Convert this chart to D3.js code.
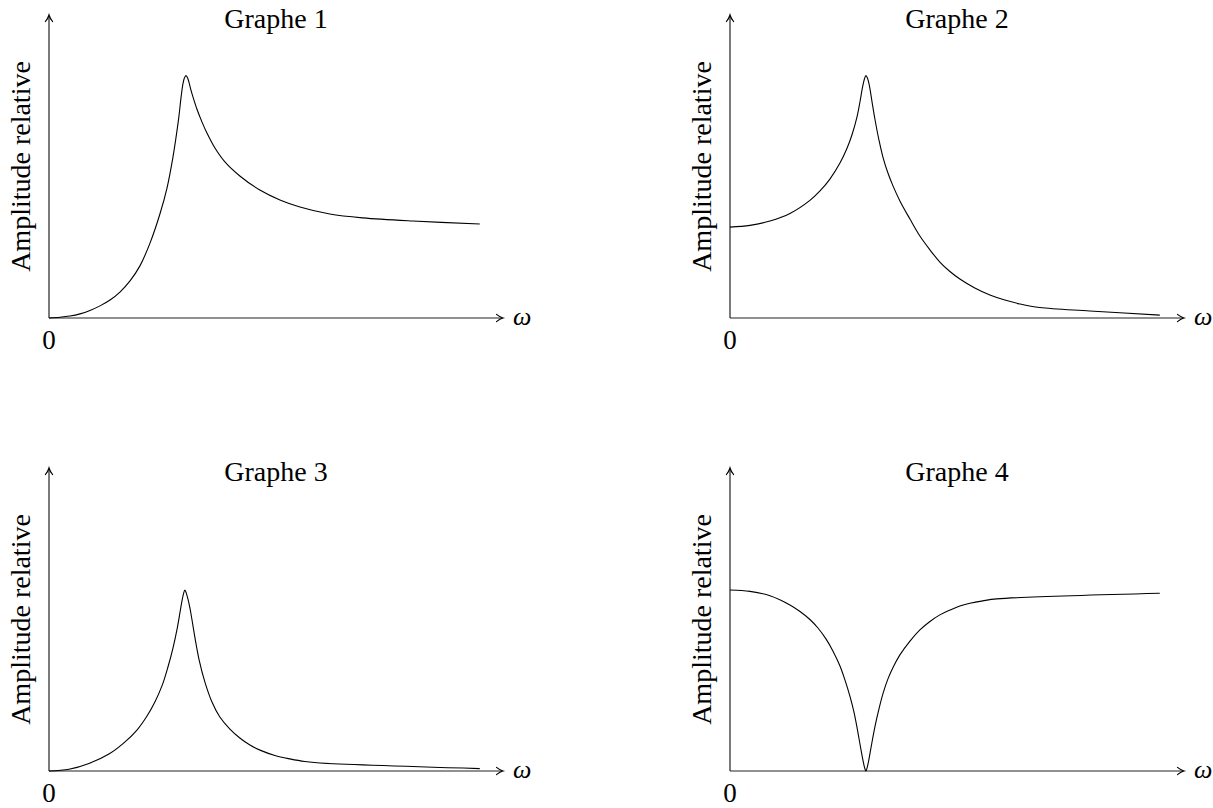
<!DOCTYPE html>
<html>
<head>
<meta charset="utf-8">
<script src="https://cdn.jsdelivr.net/npm/d3@7"></script>
<style>
body { margin: 0; background: #fff; }
text { font-family: "Liberation Serif", "Times New Roman", serif; fill: #000; }
</style>
</head>
<body>
<svg id="chart" width="1213" height="808"></svg>
<script>
// labels
var titles = ["Graphe 1", "Graphe 2", "Graphe 3", "Graphe 4"];
var yLabel = "Amplitude relative";
var xLabel = "\u03c9";
var originLabel = "0";

// values (omega, relative amplitude)
var w1 = [0, 0.081, 0.154, 0.228, 0.301, 0.375, 0.449, 0.522, 0.596, 0.669, 0.743, 0.816, 0.868, 0.912, 0.934, 0.956, 0.971, 0.985, 0.996, 1.007, 1.018, 1.029, 1.044, 1.059, 1.088, 1.125, 1.162, 1.221, 1.294, 1.404, 1.551, 1.699, 1.846, 2.066, 2.309, 2.676, 3.169];
var a1 = [0, 0.003, 0.008, 0.017, 0.031, 0.050, 0.074, 0.107, 0.153, 0.215, 0.309, 0.429, 0.536, 0.664, 0.743, 0.833, 0.908, 0.965, 0.990, 1.0, 0.992, 0.974, 0.941, 0.912, 0.862, 0.809, 0.763, 0.701, 0.644, 0.586, 0.528, 0.487, 0.458, 0.429, 0.413, 0.400, 0.388];

var w2 = [0, 0.147, 0.294, 0.441, 0.588, 0.662, 0.735, 0.809, 0.860, 0.897, 0.934, 0.956, 0.974, 0.989, 1.0, 1.011, 1.026, 1.044, 1.066, 1.096, 1.125, 1.162, 1.199, 1.250, 1.324, 1.397, 1.471, 1.544, 1.618, 1.691, 1.801, 1.912, 2.022, 2.132, 2.279, 2.647, 3.162];
var a2 = [0.375, 0.382, 0.400, 0.431, 0.485, 0.524, 0.573, 0.639, 0.699, 0.755, 0.829, 0.891, 0.949, 0.986, 1.0, 0.990, 0.957, 0.895, 0.821, 0.734, 0.664, 0.598, 0.545, 0.483, 0.408, 0.338, 0.281, 0.231, 0.192, 0.161, 0.124, 0.095, 0.074, 0.058, 0.043, 0.029, 0.012];

var w3 = [0, 0.147, 0.294, 0.441, 0.551, 0.647, 0.721, 0.779, 0.831, 0.875, 0.912, 0.941, 0.963, 0.978, 0.989, 1.0, 1.011, 1.022, 1.037, 1.051, 1.074, 1.103, 1.147, 1.199, 1.257, 1.331, 1.404, 1.478, 1.566, 1.662, 1.772, 1.882, 1.993, 3.169];
var a3 = [0, 0.007, 0.031, 0.070, 0.116, 0.169, 0.227, 0.285, 0.351, 0.429, 0.507, 0.582, 0.652, 0.701, 0.730, 0.747, 0.732, 0.710, 0.672, 0.627, 0.549, 0.462, 0.367, 0.285, 0.223, 0.173, 0.136, 0.107, 0.083, 0.064, 0.050, 0.039, 0.033, 0.010];

var w4 = [0, 0.147, 0.294, 0.441, 0.515, 0.588, 0.647, 0.706, 0.757, 0.809, 0.846, 0.882, 0.912, 0.938, 0.960, 0.978, 0.991, 1.0, 1.009, 1.021, 1.037, 1.066, 1.096, 1.127, 1.162, 1.201, 1.250, 1.324, 1.397, 1.471, 1.544, 1.618, 1.691, 1.765, 1.860, 1.963, 3.162];
var a4 = [0.747, 0.741, 0.723, 0.685, 0.658, 0.625, 0.590, 0.545, 0.495, 0.433, 0.375, 0.309, 0.243, 0.169, 0.099, 0.045, 0.012, 0, 0.014, 0.045, 0.095, 0.182, 0.256, 0.322, 0.380, 0.429, 0.479, 0.536, 0.582, 0.617, 0.644, 0.664, 0.681, 0.692, 0.702, 0.710, 0.733];

var omegas = [w1, w2, w3, w4];
var amps = [a1, a2, a3, a4];

// layout
var origins = [[49, 318], [730, 318], [49, 771], [730, 771]];
var axisW = 454, axisH = 303;

var svg = d3.select("#chart");

var x = d3.scaleLinear().domain([0, 3.34]).range([0, axisW]);
var y = d3.scaleLinear().domain([0, 1.25]).range([0, -axisH]);

var line = d3.line()
    .x(function(d) { return x(d[0]); })
    .y(function(d) { return y(d[1]); })
    .curve(d3.curveCatmullRom.alpha(0.5));

function arrowHead(g, tx, ty, angle) {
    g.append("path")
        .attr("d", "M-6.5,-3.6 C-4,-1.6 -1.8,-0.5 0,0 C-1.8,0.5 -4,1.6 -6.5,3.6")
        .attr("transform", "translate(" + tx + "," + ty + ") rotate(" + angle + ")")
        .attr("fill", "none")
        .attr("stroke", "#000")
        .attr("stroke-width", 1.2)
        .attr("stroke-linecap", "round");
}

titles.forEach(function(title, i) {
    var ox = origins[i][0], oy = origins[i][1];
    var g = svg.append("g").attr("transform", "translate(" + ox + "," + oy + ")");

    // axes
    g.append("line").attr("x1", 0).attr("y1", 0).attr("x2", axisW - 1).attr("y2", 0)
        .attr("stroke", "#222").attr("stroke-width", 1.2);
    g.append("line").attr("x1", 0).attr("y1", 0).attr("x2", 0).attr("y2", -axisH + 1)
        .attr("stroke", "#222").attr("stroke-width", 1.2);
    arrowHead(g, axisW, 0, 0);
    arrowHead(g, 0, -axisH, -90);

    // curve
    var pts = d3.zip(omegas[i], amps[i]);
    g.append("path")
        .datum(pts)
        .attr("d", line)
        .attr("fill", "none")
        .attr("stroke", "#000")
        .attr("stroke-width", 1.1);

    // texts
    g.append("text")
        .attr("x", axisW / 2).attr("y", -290)
        .attr("text-anchor", "middle")
        .style("font-size", "28px")
        .text(title);

    g.append("text")
        .attr("transform", "translate(-19," + (-axisH / 2) + ") rotate(-90)")
        .attr("text-anchor", "middle")
        .style("font-size", "28px")
        .text(yLabel);

    g.append("text")
        .attr("x", 0).attr("y", 31)
        .attr("text-anchor", "middle")
        .style("font-size", "27px")
        .text(originLabel);

    g.append("text")
        .attr("x", axisW + 10).attr("y", 7)
        .style("font-size", "26px")
        .style("font-style", "italic")
        .text(xLabel);
});
</script>
</body>
</html>
